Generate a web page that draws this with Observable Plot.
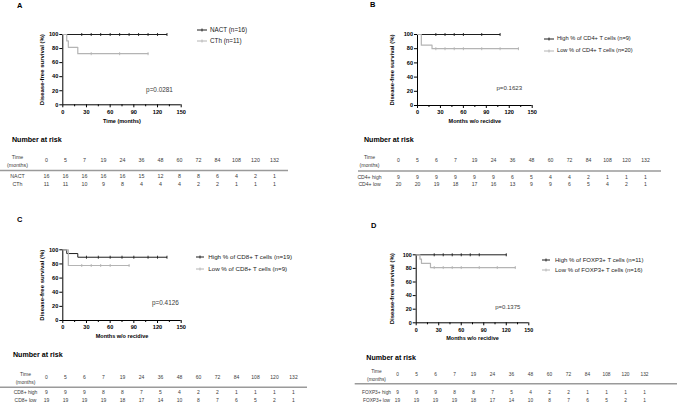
<!DOCTYPE html>
<html>
<head>
<meta charset="utf-8">
<script src="https://cdn.jsdelivr.net/npm/d3@7"></script>
<script src="https://cdn.jsdelivr.net/npm/@observablehq/plot@0.6"></script>
<style>
  html, body { margin: 0; padding: 0; background: #fff; }
  #fig { position: relative; width: 677px; height: 408px; background: #fff; overflow: hidden;
         font-family: 'Liberation Sans', Arial, Helvetica, sans-serif; }
  #fig > * { position: absolute; }
  .lbl { white-space: nowrap; line-height: 1; transform: translateY(-50%); }
</style>
</head>
<body>
<div id="fig"></div>
<script>
// ---------------- DATA ----------------
const panelLetters = ["A", "B", "C", "D"];
const xLabels = ["Time (months)", "Months w/o recidive", "Months w/o recidive", "Months w/o recidive"];
const yLabel = "Disease-free survival (%)";
const pValues = ["p=0.0281", "p=0.1623", "p=0.4126", "p=0.1375"];
const riskTitle = "Number at risk";
const timeHeader = "Time\n(months)";
const xTicks = [0, 30, 60, 90, 120, 150];
const xMinor = [15, 45, 75, 105, 135];
const yTicks = [0, 20, 40, 60, 80, 100];

// Panel A: survival steps (time, %), censor times
const aLegend = ["NACT (n=16)", "CTh (n=11)"];
const aNactT = [0, 132];            const aNactS = [100, 100];
const aNactC = [24, 36, 48, 60, 72, 84, 96, 108, 120, 132];
const aCthT = [0, 5, 7, 19, 108];   const aCthS = [100, 90.9, 81.8, 72.7, 72.7];
const aCthC = [36, 72, 108];
const aTimes = [0, 5, 7, 19, 24, 36, 48, 60, 72, 84, 108, 120, 132];
const aRows = ["NACT", "CTh"];
const aNact = [16, 16, 16, 16, 16, 15, 12, 8, 8, 6, 4, 2, 1];
const aCth  = [11, 11, 10, 9, 8, 4, 4, 4, 2, 2, 1, 1, 1];

// Panel B
const bLegend = ["High % of CD4+ T cells (n=9)", "Low % of CD4+ T cells (n=20)"];
const bHighT = [0, 108];            const bHighS = [100, 100];
const bHighC = [24, 36, 48, 60, 84, 108];
const bLowT = [0, 5, 19, 132];      const bLowS = [100, 85, 80, 80];
const bLowC = [24, 36, 48, 60, 84, 108, 132];
const bTimes = [0, 5, 6, 7, 19, 24, 36, 48, 60, 72, 84, 108, 120, 132];
const bRows = ["CD4+ high", "CD4+ low"];
const bHigh = [9, 9, 9, 9, 9, 9, 6, 5, 4, 4, 2, 1, 1, 1];
const bLow  = [20, 20, 19, 18, 17, 16, 13, 9, 9, 6, 5, 4, 2, 1];

// Panel C
const cLegend = ["High % of CD8+ T cells (n=19)", "Low % of CD8+ T cells (n=9)"];
const cHighT = [0, 5, 19, 132];     const cHighS = [100, 94.7, 89.5, 89.5];
const cHighC = [30, 45, 60, 75, 90, 108, 120, 132];
const cLowT = [0, 7, 84];           const cLowS = [100, 77.8, 77.8];
const cLowC = [24, 36, 48, 60, 84];
const cTimes = [0, 5, 6, 7, 19, 24, 36, 48, 60, 72, 84, 108, 120, 132];
const cRows = ["CD8+ high", "CD8+ low"];
const cHigh = [9, 9, 9, 8, 8, 7, 5, 4, 2, 2, 1, 1, 1, 1];
const cLow  = [19, 19, 19, 19, 18, 17, 14, 10, 8, 7, 6, 5, 2, 1];

// Panel D
const dLegend = ["High % of FOXP3+ T cells (n=11)", "Low % of FOXP3+ T cells (n=16)"];
const dHighT = [0, 120];            const dHighS = [100, 100];
const dHighC = [24, 36, 48, 60, 72, 84, 120];
const dLowT = [0, 5, 7, 19, 132];   const dLowS = [100, 93.75, 87.5, 81.25, 81.25];
const dLowC = [24, 36, 48, 60, 84, 108, 132];
const dTimes = [0, 5, 6, 7, 19, 24, 36, 48, 60, 72, 84, 108, 120, 132];
const dRows = ["FOXP3+ high", "FOXP3+ low"];
const dHigh = [9, 9, 9, 8, 8, 7, 5, 4, 2, 2, 1, 1, 1, 1];
const dLow  = [19, 19, 19, 19, 18, 17, 14, 10, 8, 7, 6, 5, 2, 1];

// ---------------- STYLE / HELPERS ----------------
const FONT = "'Liberation Sans', Arial, Helvetica, sans-serif";
const BLACK = "#1e1e1e", GRAY = "#b4b4b4", TXT = "#3a3a3a";
const fig = document.getElementById("fig");

function place(el, left, top) { el.style.left = left + "px"; el.style.top = top + "px"; fig.appendChild(el); return el; }
function label(text, x, y, size, weight, color) {
  const d = document.createElement("div");
  d.className = "lbl"; d.textContent = text;
  d.style.fontSize = size + "px"; d.style.fontWeight = weight || "normal"; d.style.color = color || "#000";
  return place(d, x, y);
}
const censorSymbol = { draw(ctx, size) { const h = Math.sqrt(size) / 2; ctx.moveTo(0, -h); ctx.lineTo(0, h); } };
function stepAt(ts, ss, t) { let v = ss[0]; for (let i = 0; i < ts.length; i++) if (ts[i] <= t) v = ss[i]; return v; }

function kmPlot(o) {
  const w = o.w, h = o.h;
  const mL = o.x0 - o.left, mR = o.left + w - o.x1, mT = o.y100 - o.top, mB = o.top + h - o.y0;
  const marks = [
    Plot.ruleX([0], {stroke: "#000", strokeWidth: 1}),
    Plot.ruleY([0], {stroke: "#000", strokeWidth: 1}),
    Plot.axisY({ticks: yTicks, tickSize: 3, tickPadding: 1.5, fontSize: o.tick, fontWeight: "bold", label: null}),
    Plot.axisX({ticks: xTicks, tickSize: 3, tickPadding: 2, fontSize: o.tick, fontWeight: "bold", label: null}),
    Plot.axisX({ticks: xMinor, tickSize: 2, tickFormat: () => "", label: null}),
  ];
  for (const s of o.series) {
    const pts = s.t.map((t, i) => ({t, s: s.s[i]}));
    marks.push(Plot.line(pts, {x: "t", y: "s", curve: "step-after", stroke: s.color, strokeWidth: s.sw}));
    const cz = s.c.map(t => ({t, s: stepAt(s.t, s.s, t)}));
    marks.push(Plot.dot(cz, {x: "t", y: "s", symbol: censorSymbol, r: 1.7, fill: "none", stroke: s.color, strokeWidth: 0.9}));
  }
  marks.push(Plot.text([o.p], {x: () => o.px, y: () => o.py, text: d => d, fontSize: o.pSize, fontWeight: "normal", fill: TXT}));
  marks.push(Plot.text([o.xlabel], {frameAnchor: "bottom", dy: o.xlabDy, lineAnchor: "middle", fontSize: o.labSize, fontWeight: "bold"}));
  marks.push(Plot.text([yLabel], {frameAnchor: "left", dx: o.ylabX - o.x0, rotate: -90, textAnchor: "middle", lineAnchor: "middle", fontSize: o.yLabSize, fontWeight: "bold"}));
  const svg = Plot.plot({
    width: w, height: h, marginLeft: mL, marginRight: mR, marginTop: mT, marginBottom: mB,
    x: {domain: [0, 150]}, y: {domain: [0, 100]},
    style: {background: "transparent", overflow: "visible", fontFamily: FONT, color: "#000"},
    marks
  });
  return place(svg, o.left, o.top);
}

function riskTable(o) {
  const w = o.w, h = o.h;
  const mL = o.line0 - o.left, mR = o.left + w - o.line1, mT = o.sep - o.top;
  const cells = o.rows.flatMap((r, ri) => o.times.map((t, i) => ({t: String(t), row: r, n: o.vals[ri][i]})));
  const svg = Plot.plot({
    width: w, height: h, marginLeft: mL, marginRight: mR, marginTop: mT, marginBottom: 0,
    x: {type: "point", domain: o.times.map(String), range: o.xr.map(v => v - o.left), padding: 0, axis: null},
    y: {type: "point", domain: o.rows, range: o.ry.map(v => v - o.top), padding: 0, axis: null},
    style: {background: "transparent", overflow: "visible", fontFamily: FONT, color: TXT},
    marks: [
      Plot.ruleY([o.rows[0]], {dy: o.sep - o.ry[0], stroke: "#9a9a9a", strokeWidth: 1.4}),
      Plot.text(o.times.map(String), {x: d => d, frameAnchor: "top", dy: o.head - o.sep, lineAnchor: "middle", fontSize: o.fs, fill: TXT}),
      Plot.text([timeHeader], {frameAnchor: "top-left", dx: o.labX - o.line0, dy: o.head - o.sep, textAnchor: "middle", lineAnchor: "middle", lineHeight: o.lh, fontSize: o.fs, fill: TXT}),
      Plot.text(o.rows, {y: d => d, frameAnchor: "left", dx: o.labX - o.line0, textAnchor: "middle", fontSize: o.fs, fill: TXT}),
      Plot.text(cells, {x: "t", y: "row", text: "n", fontSize: o.fs, fill: TXT})
    ]
  });
  return place(svg, o.left, o.top);
}

function legend(items, lx0, lx1, tx, ys, size) {
  items.forEach((txt, i) => {
    const col = i === 0 ? BLACK : GRAY;
    const s = document.createElementNS("http://www.w3.org/2000/svg", "svg");
    s.setAttribute("width", lx1 - lx0 + 2); s.setAttribute("height", 6);
    const mid = (lx1 - lx0) / 2 + 1;
    s.innerHTML = `<line x1="1" x2="${lx1 - lx0 + 1}" y1="3" y2="3" stroke="${col}" stroke-width="1"/>` +
                  `<line x1="${mid}" x2="${mid}" y1="1.5" y2="4.5" stroke="${col}" stroke-width="0.9"/>`;
    place(s, lx0 - 1, ys[i] - 3);
    label(txt, tx, ys[i], size, "normal", "#222");
  });
}

// ---------------- PANEL A ----------------
label(panelLetters[0], 17, 5.8, 7.5, "bold");
kmPlot({left: 30, top: 20, w: 160, h: 112, x0: 62.3, x1: 180.7, y100: 34, y0: 104.3,
  tick: 5.6, labSize: 5.5, yLabSize: 6, pSize: 6.4, xlabel: xLabels[0], xlabDy: 16, ylabX: 42,
  p: pValues[0], px: 122.5, py: 21.8,
  series: [{t: aNactT, s: aNactS, c: aNactC, color: BLACK, sw: 1},
           {t: aCthT, s: aCthS, c: aCthC, color: GRAY, sw: 1.2}]});
legend(aLegend, 197, 207, 210, [30.3, 41.3], 6.3);
label(riskTitle, 12, 141, 7.1, "bold");
riskTable({left: 0, top: 145, w: 300, h: 45, line0: 0, line1: 288, sep: 170, head: 160,
  xr: [40, 279], ry: [176, 184], labX: 17, fs: 5.3, lh: 1.5,
  times: aTimes, rows: aRows, vals: [aNact, aCth]});

// ---------------- PANEL B ----------------
label(panelLetters[1], 370, 5, 7.5, "bold");
kmPlot({left: 385, top: 20, w: 160, h: 112, x0: 417, x1: 531.7, y100: 34, y0: 105,
  tick: 5.6, labSize: 5.5, yLabSize: 6, pSize: 6.1, xlabel: xLabels[1], xlabDy: 15.7, ylabX: 392,
  p: pValues[1], px: 120, py: 24.5,
  series: [{t: bHighT, s: bHighS, c: bHighC, color: BLACK, sw: 1},
           {t: bLowT, s: bLowS, c: bLowC, color: GRAY, sw: 1.2}]});
legend(bLegend, 544, 554, 557, [38.7, 50.7], 5.7);
label(riskTitle, 364, 141, 7.1, "bold");
riskTable({left: 338, top: 145, w: 339, h: 45, line0: 358, line1: 661, sep: 170, head: 160,
  xr: [393, 650], ry: [176.5, 184.3], labX: 369, fs: 5.1, lh: 1.5,
  times: bTimes, rows: bRows, vals: [bHigh, bLow]});

// ---------------- PANEL C ----------------
label(panelLetters[2], 17, 219.5, 7.5, "bold");
kmPlot({left: 30, top: 235, w: 160, h: 112, x0: 62.3, x1: 180.7, y100: 249.3, y0: 320,
  tick: 5.6, labSize: 5.5, yLabSize: 6, pSize: 6.4, xlabel: xLabels[2], xlabDy: 16, ylabX: 42,
  p: pValues[2], px: 130, py: 25.5,
  series: [{t: cHighT, s: cHighS, c: cHighC, color: BLACK, sw: 1},
           {t: cLowT, s: cLowS, c: cLowC, color: GRAY, sw: 1.2}]});
legend(cLegend, 196, 204, 208.3, [256.7, 268.7], 6.2);
label(riskTitle, 13, 356, 7.1, "bold");
riskTable({left: 0, top: 360, w: 310, h: 48, line0: 0, line1: 307, sep: 386.7, head: 377,
  xr: [40, 298], ry: [392, 400.7], labX: 25, fs: 5, lh: 1.5,
  times: cTimes, rows: cRows, vals: [cHigh, cLow]});

// ---------------- PANEL D ----------------
label(panelLetters[3], 371, 226, 7.5, "bold");
kmPlot({left: 385, top: 240, w: 160, h: 112, x0: 415.7, x1: 528.3, y100: 254.3, y0: 322.3,
  tick: 5.4, labSize: 5.5, yLabSize: 6, pSize: 6.0, xlabel: xLabels[3], xlabDy: 15, ylabX: 392,
  p: pValues[3], px: 122, py: 23,
  series: [{t: dHighT, s: dHighS, c: dHighC, color: BLACK, sw: 1},
           {t: dLowT, s: dLowS, c: dLowC, color: GRAY, sw: 1.2}]});
legend(dLegend, 542, 550, 555, [260, 270.3], 6.0);
label(riskTitle, 366.3, 358.7, 7.1, "bold");
riskTable({left: 338, top: 355, w: 339, h: 53, line0: 354.7, line1: 677, sep: 383.3, head: 374,
  xr: [391, 650], ry: [392, 400.7], labX: 376, fs: 4.8, lh: 1.6,
  times: dTimes, rows: dRows, vals: [dHigh, dLow]});
</script>
</body>
</html>
